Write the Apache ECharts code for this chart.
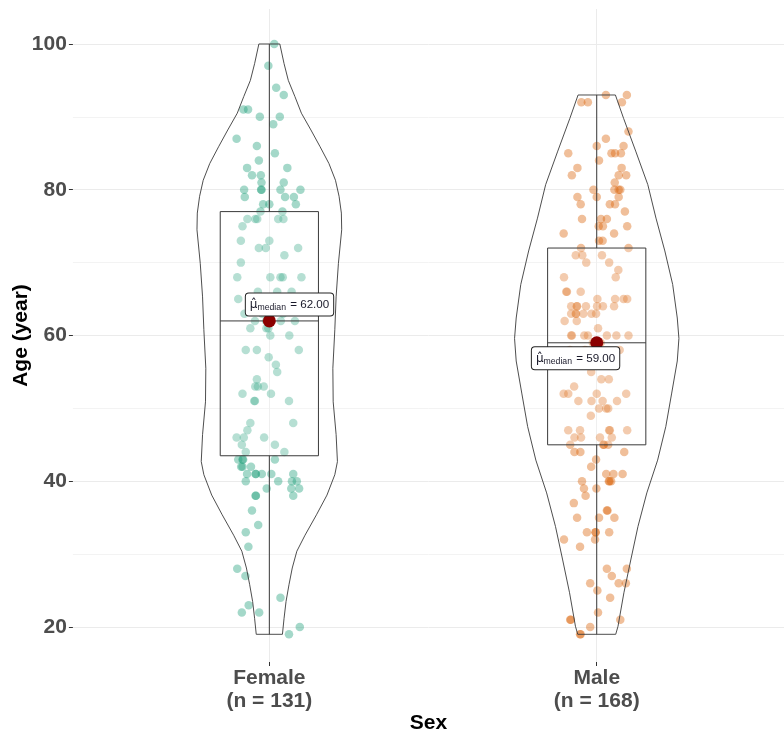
<!DOCTYPE html>
<html>
<head>
<meta charset="utf-8">
<script src="https://cdn.jsdelivr.net/npm/echarts@6/dist/echarts.min.js"></script>
<style>
  html, body { margin: 0; padding: 0; background: #ffffff; }
  #chart { width: 784px; height: 733px; }
</style>
</head>
<body>
<div id="chart"></div>
<script>
// Groups on the x axis and their sample sizes
const categories = ['Female', 'Male'];
const sampleSizes = [131, 168];
const pointColors = ['#1b9e77', '#d95f02'];

// Individual observations: [age, horizontal jitter in category units]
const femalePoints = [
  [100, 0.015], [97, -0.003], [94, 0.021], [93, 0.044], [91, -0.079], [91, -0.065], [90, -0.029], [90, 0.032],
  [89, 0.012], [87, -0.100], [86, -0.038], [85, 0.017], [84, -0.032], [83, -0.068], [83, 0.055], [82, -0.053],
  [82, -0.026], [81, -0.024], [81, 0.044],
  [80, -0.077], [80, -0.025], [80, -0.024], [80, 0.034], [80, 0.095], [79, -0.075], [79, 0.048], [79, 0.075],
  [78, -0.019], [78, 0.000], [78, 0.081], [77, -0.027], [77, 0.040],
  [76, -0.067], [76, -0.043], [76, -0.037], [76, 0.027], [76, 0.043], [75, -0.082], [73, -0.087], [73, 0.000],
  [72, -0.032], [72, -0.011], [72, 0.088], [71, 0.046], [70, -0.087],
  [68, -0.098], [68, 0.003], [68, 0.034], [68, 0.041], [68, 0.098], [66, -0.035], [66, 0.024], [66, 0.068],
  [65, -0.095], [65, -0.022], [64, -0.059], [64, 0.008], [64, 0.057], [63, -0.076], [63, -0.022], [63, 0.042],
  [62, -0.044], [62, -0.010], [62, 0.000], [62, 0.035], [62, 0.078], [61, -0.058], [61, -0.009], [61, -0.003],
  [60, 0.003], [60, 0.061], [58, -0.072], [58, -0.038], [58, 0.090], [57, -0.002], [56, 0.020], [55, 0.024],
  [54, -0.038], [53, -0.043], [53, -0.035], [53, -0.017], [52, -0.082], [52, 0.005], [51, -0.046], [51, -0.044],
  [51, 0.060],
  [48, -0.058], [48, 0.073], [47, -0.067], [46, -0.100], [46, -0.078], [46, -0.016], [45, -0.084], [45, 0.017],
  [44, -0.072], [44, 0.046], [43, -0.095], [43, -0.082], [43, -0.080], [43, 0.017], [42, -0.086], [42, -0.082],
  [42, -0.056],
  [41, -0.068], [41, -0.042], [41, -0.041], [41, -0.023], [41, 0.006], [41, 0.073], [40, -0.072], [40, 0.027],
  [40, 0.069], [40, 0.084], [39, -0.008], [39, 0.067], [39, 0.091], [38, -0.042], [38, -0.041], [38, 0.073],
  [36, -0.053], [34, -0.034], [33, -0.072], [31, -0.064], [28, -0.098], [27, -0.073], [24, 0.034], [23, -0.063],
  [22, -0.084], [22, -0.031], [20, 0.093], [19, 0.060]
];

const malePoints = [
  [93, 0.028], [93, 0.092], [92, -0.047], [92, -0.027], [92, 0.077], [88, 0.097], [87, 0.028], [86, 0.000],
  [86, 0.082], [85, -0.087], [85, 0.045], [85, 0.056], [85, 0.074], [84, 0.007], [83, -0.059], [83, 0.076],
  [82, -0.076], [82, 0.067], [82, 0.090], [81, 0.055],
  [80, -0.010], [80, 0.054], [80, 0.067], [80, 0.072], [79, -0.059], [79, 0.000], [79, 0.067], [78, -0.049],
  [78, 0.040], [78, 0.056], [77, 0.086], [76, -0.045], [76, 0.013], [76, 0.031], [75, 0.006], [75, 0.019],
  [75, 0.093], [74, -0.101], [74, 0.053], [73, 0.007], [73, 0.018],
  [72, -0.048], [72, 0.097], [71, -0.064], [71, -0.044], [71, 0.016], [70, -0.032], [70, 0.038], [69, 0.066],
  [68, -0.100], [68, 0.058], [66, -0.093], [66, -0.091], [66, -0.049], [65, 0.002], [65, 0.056], [65, 0.082],
  [65, 0.093],
  [64, -0.078], [64, -0.061], [64, -0.060], [64, -0.033], [64, 0.001], [64, 0.019], [64, 0.053], [63, -0.078],
  [63, -0.064], [63, -0.063], [63, -0.041], [63, -0.016], [63, -0.002], [62, -0.098], [62, -0.061], [61, 0.004],
  [60, -0.078], [60, -0.076], [60, -0.038], [60, -0.027], [60, 0.031], [60, 0.060], [60, 0.097],
  [59, -0.012], [59, -0.006], [59, 0.000], [59, 0.004], [59, 0.008], [59, 0.012],
  [58, -0.082], [58, -0.036], [58, 0.070], [57, -0.090], [57, -0.055], [57, -0.020], [56, -0.070], [56, -0.040],
  [56, -0.005], [55, -0.017], [54, 0.014], [54, 0.037], [53, -0.069],
  [52, -0.101], [52, -0.087], [52, 0.000], [52, 0.090], [51, -0.056], [51, -0.016], [51, 0.018], [51, 0.062],
  [50, 0.007], [50, 0.029], [50, 0.035], [49, -0.018],
  [47, -0.087], [47, -0.051], [47, 0.038], [47, 0.040], [47, 0.093], [46, -0.068], [46, -0.048], [46, 0.010],
  [46, 0.046], [45, -0.081], [45, 0.020], [45, 0.022], [45, 0.035], [44, -0.068], [44, -0.050], [44, 0.084],
  [43, -0.002], [42, -0.017],
  [41, 0.029], [41, 0.051], [41, 0.079], [40, -0.045], [40, 0.037], [40, 0.039], [40, 0.044], [39, -0.039],
  [39, -0.001], [38, -0.034], [37, -0.070], [36, 0.031], [36, 0.033], [35, -0.060], [35, 0.007], [35, 0.054],
  [33, -0.030], [33, -0.004], [33, -0.003], [33, 0.038], [32, -0.100], [32, -0.005], [31, -0.051], [28, 0.031],
  [28, 0.092], [27, 0.046], [26, -0.020], [26, 0.067], [26, 0.089], [25, 0.002], [24, 0.041], [22, 0.004],
  [21, -0.081], [21, -0.079], [21, 0.072], [20, -0.020], [19, -0.051], [19, -0.049]
];

// Box statistics per group: [min, Q1, median, Q3, max]
const boxStats = [
  [19, 43.5, 62, 77, 100],
  [19, 45, 59, 72, 93]
];
const medianValues = [62, 59];

// Violin outlines: ages and half-widths (category units)
const femaleViolinAges = [100, 97.3, 95, 92.8, 90.5, 88.2, 85.9, 83.6, 81.3, 79.1, 76.8, 74.5, 69.9, 65.3, 60.8,
  55.5, 50.9, 46.4, 42.7, 40.9, 38.1, 35.4, 32.6, 30.4, 28.1, 25.8, 23.5, 21.2, 19];
const femaleViolinWidths = [0.032, 0.045, 0.058, 0.078, 0.098, 0.127, 0.155, 0.182, 0.202, 0.213, 0.220, 0.221,
  0.211, 0.204, 0.200, 0.194, 0.195, 0.204, 0.208, 0.200, 0.176, 0.144, 0.109, 0.084, 0.070, 0.060, 0.051, 0.045, 0.040];
const maleViolinAges = [93, 89.8, 85.3, 80.7, 76.1, 71.6, 67, 62.4, 59.6, 56.5, 52.1, 47.5, 42.9, 38.4, 33.8,
  29.2, 24.7, 20.1, 19];
const maleViolinWidths = [0.057, 0.082, 0.119, 0.156, 0.181, 0.208, 0.232, 0.246, 0.251, 0.246, 0.229, 0.211,
  0.186, 0.153, 0.126, 0.104, 0.083, 0.065, 0.058];

const yMajorTicks = [20, 40, 60, 80, 100];
const yMinorTicks = [30, 50, 70, 90];
const xTicks = [1, 2];

const violinAges = [femaleViolinAges, maleViolinAges];
const violinWidths = [femaleViolinWidths, maleViolinWidths];
const groupPoints = [femalePoints, malePoints];
const BOX_HALF = 0.15;

const chart = echarts.init(document.getElementById('chart'), null, { renderer: 'canvas' });

const lineColor = '#3a3a3a';

// Violin outline, box, median bar and whiskers for one group
function renderShapes(params, api) {
  const g = api.value(0);
  const c = g + 1;
  const ages = violinAges[g];
  const hw = violinWidths[g];
  const pts = [];
  for (let i = 0; i < ages.length; i++) pts.push(api.coord([c + hw[i], ages[i]]));
  for (let i = ages.length - 1; i >= 0; i--) pts.push(api.coord([c - hw[i], ages[i]]));

  const s = boxStats[g];
  const tl = api.coord([c - BOX_HALF, s[3]]);
  const br = api.coord([c + BOX_HALF, s[1]]);
  const medL = api.coord([c - BOX_HALF, s[2]]);
  const medR = api.coord([c + BOX_HALF, s[2]]);
  const wTop = api.coord([c, s[4]]);
  const wQ3 = api.coord([c, s[3]]);
  const wQ1 = api.coord([c, s[1]]);
  const wBot = api.coord([c, s[0]]);

  return {
    type: 'group',
    children: [
      { type: 'rect', shape: { x: tl[0], y: tl[1], width: br[0] - tl[0], height: br[1] - tl[1] },
        style: { fill: 'rgba(255,255,255,0.2)', stroke: lineColor, lineWidth: 1 } },
      { type: 'line', shape: { x1: medL[0], y1: medL[1], x2: medR[0], y2: medR[1] },
        style: { stroke: lineColor, lineWidth: 1 } },
      { type: 'line', shape: { x1: wTop[0], y1: wTop[1], x2: wQ3[0], y2: wQ3[1] },
        style: { stroke: lineColor, lineWidth: 1 } },
      { type: 'line', shape: { x1: wQ1[0], y1: wQ1[1], x2: wBot[0], y2: wBot[1] },
        style: { stroke: lineColor, lineWidth: 1 } },
      { type: 'polygon', shape: { points: pts },
        style: { fill: 'rgba(255,255,255,0)', stroke: '#3a3a3a', lineWidth: 0.9 } }
    ]
  };
}

const pointSeries = groupPoints.map((pts, g) => ({
  type: 'scatter',
  data: pts.map(p => [g + 1 + p[1], p[0]]),
  symbolSize: 8.5,
  itemStyle: { color: pointColors[g], opacity: 0.4 },
  silent: true,
  z: 2
}));

const labelRich = {
  mu: { fontSize: 12, fontFamily: 'DejaVu Sans', color: '#1a1a2a' },
  sub: { fontSize: 8.7, fontFamily: 'Liberation Sans', color: '#1a1a2a', padding: [6, 1, 0, 0] },
  eq: { fontSize: 11.6, fontFamily: 'Liberation Sans', color: '#1a1a2a' }
};

const labelPositions = [
  { position: [-17, 1], align: 'left', verticalAlign: 'bottom' },
  { position: [29, 11], align: 'right', verticalAlign: 'top' }
];

const medianSeries = {
  type: 'scatter',
  data: medianValues.map((m, g) => ({
    value: [g + 1, m],
    label: Object.assign({
      show: true,
      formatter: '{mu|\u03bc\u0302}{sub|median}{eq| = ' + m.toFixed(2) + '}',
      rich: labelRich,
      backgroundColor: '#ffffff',
      borderColor: '#222222',
      borderWidth: 1,
      borderRadius: 3,
      padding: [4, 4, 3, 4]
    }, labelPositions[g])
  })),
  symbolSize: 13,
  itemStyle: { color: '#8b0000', opacity: 1 },
  silent: true,
  z: 5
};

chart.setOption({
  animation: false,
  backgroundColor: '#ffffff',
  grid: { left: 72.9, right: 0, top: 9, bottom: 71, outerBoundsMode: 'none' },
  xAxis: {
    type: 'value',
    min: 0.4,
    max: 2.572,
    axisLine: { show: false },
    axisTick: { show: true, customValues: xTicks, length: 4, lineStyle: { color: '#333333' } },
    axisLabel: {
      customValues: xTicks,
      formatter: v => {
        const i = Math.round(v) - 1;
        return categories[i] + '\n(n = ' + sampleSizes[i] + ')';
      },
      fontSize: 21, fontWeight: 'bold', color: '#4d4d4d', fontFamily: 'Liberation Sans',
      lineHeight: 23, margin: 5
    },
    splitLine: { show: true, lineStyle: { color: '#ebebeb', width: 1 } },
    name: 'Sex',
    nameLocation: 'middle',
    nameGap: 51,
    nameMoveOverlap: false,
    nameTextStyle: { fontSize: 21, fontWeight: 'bold', color: '#000000', fontFamily: 'Liberation Sans' }
  },
  yAxis: [{
    type: 'value',
    min: 15.2,
    max: 104.8,
    axisLine: { show: false },
    axisTick: { show: true, customValues: yMajorTicks, length: 4, lineStyle: { color: '#333333' } },
    axisLabel: {
      customValues: yMajorTicks,
      fontSize: 21, fontWeight: 'bold', color: '#4d4d4d', fontFamily: 'Liberation Sans', margin: 6
    },
    splitLine: { show: true, lineStyle: { color: '#ebebeb', width: 1 } },
    name: 'Age (year)',
    nameLocation: 'middle',
    nameGap: 41,
    nameRotate: 90,
    nameMoveOverlap: false,
    nameTextStyle: { fontSize: 21, fontWeight: 'bold', color: '#000000', fontFamily: 'Liberation Sans' }
  }, {
    type: 'value',
    position: 'left',
    min: 15.2,
    max: 104.8,
    axisLine: { show: false },
    axisTick: { show: false, customValues: yMinorTicks },
    axisLabel: { show: false, customValues: yMinorTicks },
    splitLine: { show: true, lineStyle: { color: '#f3f3f3', width: 1 } }
  }],
  series: [
    pointSeries[0],
    pointSeries[1],
    {
      type: 'custom',
      renderItem: renderShapes,
      data: [[0], [1]],
      encode: { x: -1, y: -1 },
      silent: true,
      clip: false,
      z: 3
    },
    medianSeries
  ]
});
</script>
</body>
</html>
